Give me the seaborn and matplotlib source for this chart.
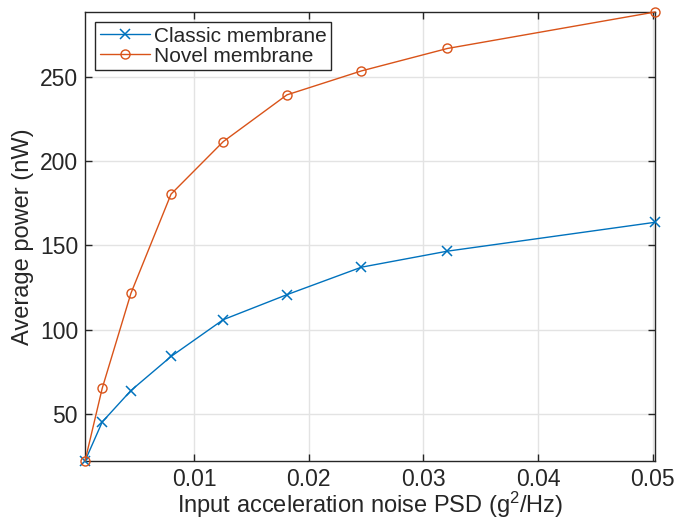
import pandas as pd
import matplotlib.pyplot as plt
import seaborn as sns

# dados
psd = [0.0005, 0.0020, 0.0045, 0.0080, 0.01255, 0.0181, 0.0246, 0.0321, 0.0502]
classic = [22.3, 45.4, 64.0, 84.2, 106.0, 120.8, 137.1, 146.6, 163.7]
novel = [22.3, 65.4, 121.6, 180.4, 211.5, 239.2, 253.4, 266.7, 288.3]
labels = ["Classic membrane", "Novel membrane"]
y_ticks = [50, 100, 150, 200, 250]
x_ticks = [0.01, 0.02, 0.03, 0.04, 0.05]

AZUL = "#0072BD"
LARANJA = "#D95319"
CINZA = "#262626"

sns.set_theme(style="whitegrid")
plt.rcParams.update({
    "font.family": ["Liberation Sans", "DejaVu Sans"],
    "font.size": 15,
    "mathtext.fontset": "custom",
    "mathtext.rm": "Liberation Sans",
    "mathtext.it": "Liberation Sans:italic",
})

df_c = pd.DataFrame({"psd": psd, "power": classic})
df_n = pd.DataFrame({"psd": psd, "power": novel})

fig = plt.figure(figsize=(6.77, 5.22), dpi=100)
ax = fig.add_axes([0.1256, 0.117, 0.842, 0.86])

sns.lineplot(data=df_c, x="psd", y="power", ax=ax, color=AZUL, linewidth=1.0,
             marker="x", markersize=6.5, markeredgecolor=AZUL, markeredgewidth=1.1,
             label=labels[0], clip_on=False, zorder=3)
sns.lineplot(data=df_n, x="psd", y="power", ax=ax, color=LARANJA, linewidth=1.0,
             marker="o", markersize=6.5, markerfacecolor="none",
             markeredgecolor=LARANJA, markeredgewidth=1.0, label=labels[1],
             clip_on=False, zorder=3)

# eixos estilo MATLAB
ax.set_xlim(psd[0], psd[-1])
ax.set_ylim(min(classic + novel), max(classic + novel))
ax.set_xticks(x_ticks)
ax.set_xticklabels([f"{t:g}" for t in x_ticks])
ax.set_yticks(y_ticks)
ax.set_facecolor("white")
ax.grid(True, color="#e3e3e3", linewidth=1.0)
for s in ax.spines.values():
    s.set_color(CINZA)
    s.set_linewidth(1.0)
    s.set_visible(True)
ax.tick_params(direction="in", length=5, width=1.0, colors=CINZA,
               labelsize=16.5, top=True, right=True, bottom=True, left=True)
ax.tick_params(axis="x", pad=5)
ax.tick_params(axis="y", pad=5)

ax.set_xlabel("Input acceleration noise PSD (g$^{2}$/Hz)", fontsize=17, color=CINZA, labelpad=-1)
ax.set_ylabel("Average power (nW)", fontsize=17, color=CINZA, labelpad=4)

leg = ax.legend(loc="upper left", fontsize=15, frameon=True, fancybox=False,
                borderpad=0.2, labelspacing=0.05, handlelength=2.4,
                handletextpad=0.2, borderaxespad=0.5)
leg.get_frame().set_edgecolor(CINZA)
leg.get_frame().set_linewidth(1.0)
leg.get_frame().set_alpha(1)

plt.savefig("out.png", dpi=100)
